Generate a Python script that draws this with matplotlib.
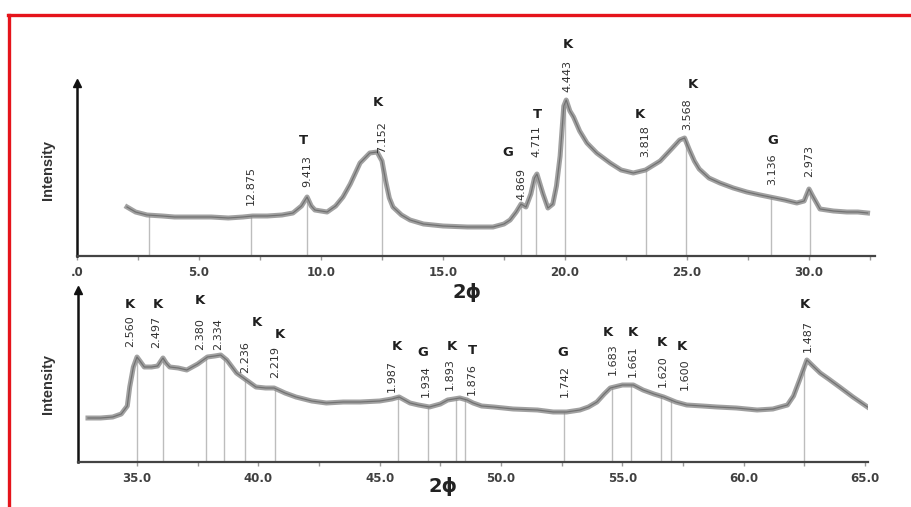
import matplotlib
matplotlib.use("Agg")
import matplotlib.pyplot as plt
import numpy as np
from matplotlib.lines import Line2D

# ---------------- data ----------------
top_two_theta = [2.05, 2.4, 2.87, 3.5, 4.0, 4.75, 5.5, 6.2, 6.8, 7.2, 7.8, 8.4, 8.85, 9.2, 9.43,
                 9.6, 9.75, 10.25, 10.6, 10.9, 11.2, 11.6, 12.0, 12.3, 12.5, 12.65, 12.8, 12.95,
                 13.3, 13.65, 14.2, 15.0, 16.0, 17.05, 17.5, 17.75, 18.0, 18.2, 18.4, 18.6, 18.75,
                 18.85, 18.95, 19.1, 19.3, 19.5, 19.65, 19.8, 19.95, 20.05, 20.2, 20.35, 20.6, 20.9,
                 21.3, 21.85, 22.3, 22.8, 23.3, 23.9, 24.4, 24.7, 24.9, 25.1, 25.3, 25.5, 25.9,
                 26.35, 26.9, 27.45, 28.0, 28.4, 29.0, 29.5, 29.8, 30.0, 30.15, 30.45, 31.0, 31.55,
                 32.0, 32.4]
top_intensity = [49, 44, 41, 40, 39, 39, 39, 38, 39, 40, 40, 41, 43, 50, 59,
                 50, 46, 44, 50, 59, 72, 93, 103, 104, 95, 75, 58, 49,
                 41, 36, 32, 30, 29, 29, 32, 36, 44, 52, 49, 62, 78,
                 82, 74, 62, 48, 52, 70, 100, 150, 156, 145, 139, 125, 113,
                 103, 93, 86, 83, 86, 95, 108, 116, 118, 106, 95, 87, 78,
                 73, 68, 64, 61, 59, 56, 53, 55, 67, 60, 47, 45, 44,
                 44, 43]

bot_two_theta = [32.98, 33.5, 34.0, 34.35, 34.6, 34.7, 34.85, 35.0, 35.15, 35.3, 35.6, 35.85, 36.07,
                 36.2, 36.35, 36.7, 37.05, 37.5, 37.9, 38.2, 38.45, 38.7, 39.1, 39.5, 39.9, 40.3,
                 40.65, 41.1, 41.55, 42.2, 42.8, 43.5, 44.2, 45.0, 45.5, 45.8, 46.25, 46.6, 47.05,
                 47.5, 47.8, 48.3, 48.6, 48.85, 49.2, 49.7, 50.5, 51.5, 52.15, 52.7, 53.25, 53.6,
                 53.95, 54.25, 54.5, 55.0, 55.45, 55.85, 56.3, 56.7, 57.2, 57.65, 58.3, 58.9, 59.7,
                 60.55, 61.2, 61.8, 62.05, 62.3, 62.6, 62.85, 63.15, 63.5, 63.95, 64.5, 65.1]
bot_intensity = [44, 44, 45, 48, 56, 75, 95, 105, 100, 95, 95, 96, 104,
                 99, 95, 94, 92, 98, 105, 106, 107, 102, 89, 82, 75, 74,
                 74, 69, 65, 61, 59, 60, 60, 61, 63, 65, 59, 57, 55,
                 58, 62, 64, 62, 59, 56, 55, 53, 52, 50, 50, 52, 55,
                 60, 68, 74, 77, 77, 72, 68, 65, 60, 57, 56, 55, 54,
                 52, 53, 57, 66, 82, 102, 96, 89, 83, 75, 65, 55]

# reflections: line position, d-spacing text, phase letter
top_peaks = [2.95, 7.13, 9.43, 12.5, 18.2, 18.81, 20.0, 23.3, 24.95, 28.46, 30.03]
top_d = ["", "12.875", "9.413", "7.152", "4.869", "4.711", "4.443", "3.818", "3.568", "3.136", "2.973"]
top_phase = ["", "", "T", "K", "G", "T", "K", "K", "K", "G", ""]

bot_peaks = [35.0, 36.07, 37.84, 38.6, 39.45, 40.7, 45.77, 47.0, 48.15, 48.52, 52.6,
             54.56, 55.34, 56.6, 57.0, 62.5]
bot_d = ["2.560", "2.497", "2.380", "2.334", "2.236", "2.219", "1.987", "1.934", "1.893",
         "1.876", "1.742", "1.683", "1.661", "1.620", "1.600", "1.487"]
bot_phase = ["K", "K", "K", "", "K", "K", "K", "G", "K", "T", "G", "K", "K", "K", "K", "K"]

top_ticks = [0, 5, 10, 15, 20, 25, 30]
top_ticklabels = [".0", "5.0", "10.0", "15.0", "20.0", "25.0", "30.0"]
bot_ticks = [35, 40, 45, 50, 55, 60, 65]
bot_ticklabels = ["35.0", "40.0", "45.0", "50.0", "55.0", "60.0", "65.0"]

# ---------------- layout (annotation placement) ----------------
top_num_x = [None, 7.13, 9.43, 12.5, 18.2, 18.81, 20.08, 23.28, 25.0, 28.48, 30.0]
top_num_y = [None, 51, 69, 103, 56, 99, 164, 99, 126, 71, 79]
top_let_xy = [None, None, (9.26, 116), (12.34, 153), (17.66, 103), (18.85, 141),
              (20.12, 211), (23.07, 141), (25.25, 171), (28.52, 116), None]

bot_num_x = [34.71, 35.78, 37.6, 38.34, 39.45, 40.69, 45.51, 46.91, 47.9, 48.8, 52.64,
             54.61, 55.44, 56.67, 57.58, 62.65]
bot_num_y = [115, 114, 112, 112, 89, 84, 70, 65, 72, 67, 65, 87, 85, 75, 72, 110]
bot_let_xy = [(34.71, 157), (35.87, 157), (37.6, 162), None, (39.94, 140), (40.89, 127),
              (45.71, 115), (46.78, 110), (47.98, 115), (48.84, 112), (52.55, 109),
              (54.41, 130), (55.44, 129), (56.63, 119), (57.46, 115), (62.52, 157)]

W, H = 912, 507
fig = plt.figure(figsize=(W / 100, H / 100), dpi=100)
fig.patch.set_facecolor("white")


def rect(l, r, t, b):
    return [l / W, 1 - b / H, (r - l) / W, (b - t) / H]


num_font = ["Liberation Sans Narrow", "DejaVu Sans"]
curve_col = "#8a8a8a"


def panel(ax, xs, ys, peaks, dtxt, phase, nx, ny, lxy, ticks, tlabels, xlim, ylim):
    ax.set_xlim(*xlim)
    ax.set_ylim(*ylim)
    ax.set_facecolor("none")
    for s in ["top", "right"]:
        ax.spines[s].set_visible(False)
    ax.spines["left"].set_color("#111111")
    ax.spines["left"].set_linewidth(1.8)
    ax.spines["bottom"].set_color("#444444")
    ax.spines["bottom"].set_linewidth(1.6)
    ax.plot([0], [1], marker="^", ms=6, color="#111111", transform=ax.transAxes,
            clip_on=False)
    ax.set_yticks([])
    ax.set_xticks(ticks)
    ax.set_xticklabels(tlabels, fontsize=8.5, fontweight="bold", color="#404040",
                       family="DejaVu Sans")
    ax.set_xticks([t + 2.5 for t in ticks if t + 2.5 < xlim[1]] +
                  ([ticks[0] - 2.5] if ticks[0] - 2.5 > xlim[0] else []), minor=True)
    ax.tick_params(axis="x", which="both", length=3, width=1, color="#999999",
                   direction="out", pad=4)
    # peak marker lines
    tops = np.interp(peaks, xs, ys)
    ax.vlines(peaks, 0, tops, colors="#bdbdbd", linewidth=1.0, zorder=1)
    # curve
    ax.plot(xs, ys, color=curve_col, lw=3.6, alpha=0.8, solid_joinstyle="round", zorder=2)
    ax.plot(xs, ys, color="#666666", lw=0.9, alpha=0.8, zorder=3)
    # labels
    for i, d in enumerate(dtxt):
        if d and nx[i] is not None:
            ax.text(nx[i], ny[i], d, rotation=90, ha="center", va="bottom",
                    fontsize=8, color="#303030", family=num_font, clip_on=False)
        if phase[i] and lxy[i] is not None:
            ax.text(lxy[i][0], lxy[i][1], phase[i], ha="center", va="center",
                    fontsize=9.5, fontweight="bold", color="#1f1f1f",
                    family="DejaVu Sans", clip_on=False)


ax1 = fig.add_axes(rect(77, 875, 83, 256))
panel(ax1, top_two_theta, top_intensity, top_peaks, top_d, top_phase,
      top_num_x, top_num_y, top_let_xy, top_ticks, top_ticklabels,
      (0, (875 - 77) / 24.4), (0, 173))

ax2 = fig.add_axes(rect(78, 868, 290, 462))
panel(ax2, bot_two_theta, bot_intensity, bot_peaks, bot_d, bot_phase,
      bot_num_x, bot_num_y, bot_let_xy, bot_ticks, bot_ticklabels,
      (35 - (137 - 78) / 24.27, 35 + (868 - 137) / 24.27), (0, 172))

# axis titles
fig.text(48 / W, 1 - 170 / H, "Intensity", rotation=90, ha="center", va="center",
         fontsize=10.5, fontweight="bold", color="#333333", family="Liberation Sans")
fig.text(48 / W, 1 - 384 / H, "Intensity", rotation=90, ha="center", va="center",
         fontsize=10.5, fontweight="bold", color="#333333", family="Liberation Sans")
fig.text(467 / W, 1 - 293 / H, "2ϕ", ha="center", va="center",
         fontsize=14, fontweight="bold", color="#222222", family="DejaVu Sans")
fig.text(443 / W, 1 - 487 / H, "2ϕ", ha="center", va="center",
         fontsize=14, fontweight="bold", color="#222222", family="DejaVu Sans")

# red frame
fig.add_artist(Line2D([9.5 / W, 9.5 / W], [0, 1 - 14.5 / H], color="#e5141b", lw=2.4))
fig.add_artist(Line2D([8.5 / W, 1], [1 - 14.5 / H, 1 - 14.5 / H], color="#e5141b", lw=2.4))

fig.savefig("out.png", dpi=100, facecolor="white")
